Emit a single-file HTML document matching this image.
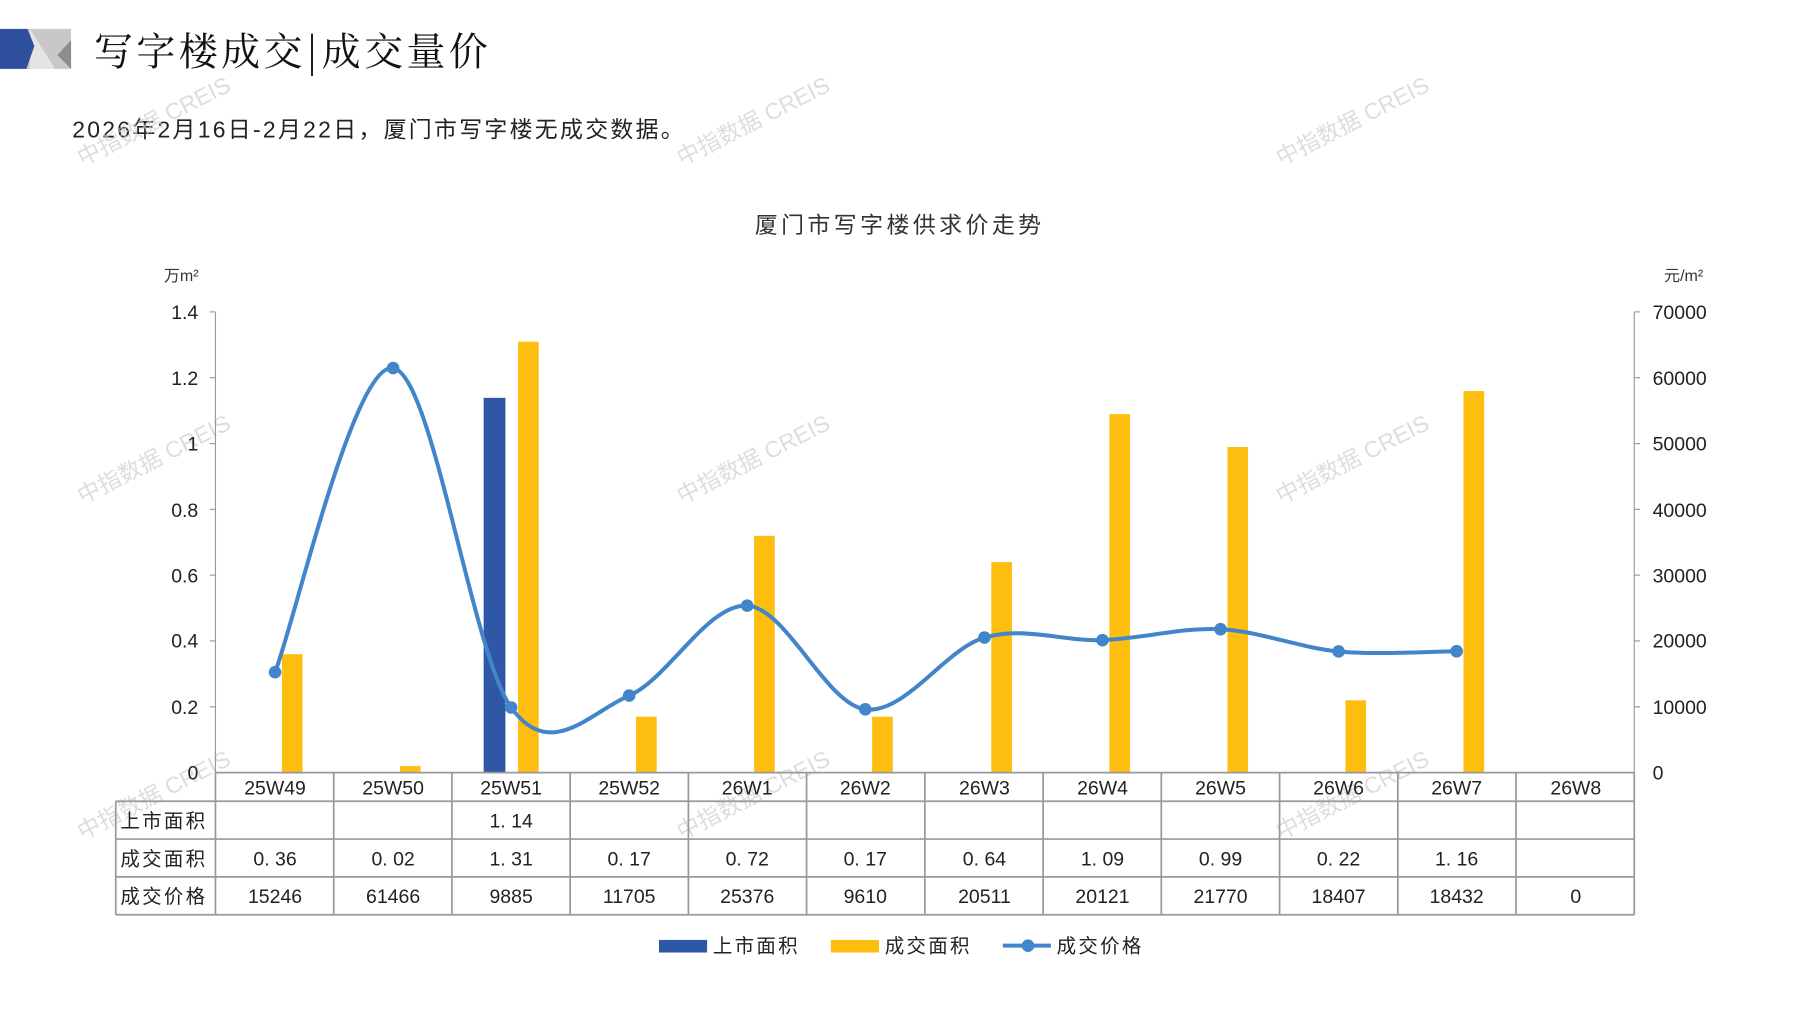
<!DOCTYPE html>
<html><head><meta charset="utf-8"><style>
html,body{margin:0;padding:0;background:#fff;}
svg{display:block;}
text{font-family:"Liberation Sans","Noto Sans CJK SC",sans-serif;}
</style></head><body>
<svg width="1797" height="1010" viewBox="0 0 1568 881" xmlns="http://www.w3.org/2000/svg">
<rect width="1568" height="881" fill="#fff"/>
<polygon points="20,25 62,25 62,60 20,60" fill="#c8c8c8"/>
<polygon points="26,25 48,60 26,60" fill="#e4e4e4"/>
<polygon points="62,35 62,60 50,48" fill="#8c8c8c"/>
<polygon points="0,25 24,25 30,40 23,60 0,60" fill="#2f4f9f"/>
<text x="82" y="57" font-size="34" fill="#111" letter-spacing="3" style="font-family:'Noto Serif CJK SC',serif">写字楼成交|成交量价</text>
<text x="63" y="120" font-size="20" fill="#222" letter-spacing="2">2026年2月16日-2月22日，厦门市写字楼无成交数据。</text>
<g fill="#cfcfcf" font-size="20" opacity="0.7">
<text transform="translate(72,145) rotate(-27)">中指数据 CREIS</text>
<text transform="translate(595,145) rotate(-27)">中指数据 CREIS</text>
<text transform="translate(1118,145) rotate(-27)">中指数据 CREIS</text>
<text transform="translate(72,440) rotate(-27)">中指数据 CREIS</text>
<text transform="translate(595,440) rotate(-27)">中指数据 CREIS</text>
<text transform="translate(1118,440) rotate(-27)">中指数据 CREIS</text>
<text transform="translate(72,733) rotate(-27)">中指数据 CREIS</text>
<text transform="translate(595,733) rotate(-27)">中指数据 CREIS</text>
<text transform="translate(1118,733) rotate(-27)">中指数据 CREIS</text>
</g>
<text x="785" y="203" font-size="20" fill="#333" text-anchor="middle" letter-spacing="3">厦门市写字楼供求价走势</text>
<text x="143" y="245" font-size="14" fill="#333">万m²</text>
<text x="1452" y="245" font-size="14" fill="#333">元/m²</text>
<g stroke="#999" stroke-width="1" fill="none">
<line x1="188" y1="272" x2="188" y2="674"/>
<line x1="1426" y1="272" x2="1426" y2="674"/>
<line x1="183" y1="272" x2="188" y2="272"/><line x1="183" y1="329.4" x2="188" y2="329.4"/><line x1="183" y1="386.9" x2="188" y2="386.9"/><line x1="183" y1="444.3" x2="188" y2="444.3"/><line x1="183" y1="501.7" x2="188" y2="501.7"/><line x1="183" y1="559.1" x2="188" y2="559.1"/><line x1="183" y1="616.6" x2="188" y2="616.6"/>
<line x1="1426" y1="272" x2="1431" y2="272"/><line x1="1426" y1="329.4" x2="1431" y2="329.4"/><line x1="1426" y1="386.9" x2="1431" y2="386.9"/><line x1="1426" y1="444.3" x2="1431" y2="444.3"/><line x1="1426" y1="501.7" x2="1431" y2="501.7"/><line x1="1426" y1="559.1" x2="1431" y2="559.1"/><line x1="1426" y1="616.6" x2="1431" y2="616.6"/>
</g>
<g font-size="17" fill="#222" text-anchor="end">
<text x="173" y="278">1.4</text><text x="173" y="336">1.2</text><text x="173" y="393">1</text><text x="173" y="451">0.8</text><text x="173" y="508">0.6</text><text x="173" y="565">0.4</text><text x="173" y="623">0.2</text><text x="173" y="680">0</text>
</g>
<g font-size="17" fill="#222" text-anchor="start">
<text x="1442" y="278">70000</text><text x="1442" y="336">60000</text><text x="1442" y="393">50000</text><text x="1442" y="451">40000</text><text x="1442" y="508">30000</text><text x="1442" y="565">20000</text><text x="1442" y="623">10000</text><text x="1442" y="680">0</text>
</g>
<rect x="422" y="347" width="19" height="327" fill="#2e58a6"/>
<g fill="#fdbe10">
<rect x="246" y="570.7" width="18" height="103.3"/>
<rect x="349" y="668.3" width="18" height="5.7"/>
<rect x="452" y="298" width="18" height="376"/>
<rect x="555" y="625.2" width="18" height="48.8"/>
<rect x="658" y="467.4" width="18" height="206.6"/>
<rect x="761" y="625.2" width="18" height="48.8"/>
<rect x="865" y="490.3" width="18" height="183.7"/>
<rect x="968" y="361.2" width="18" height="312.8"/>
<rect x="1071" y="389.9" width="18" height="284.1"/>
<rect x="1174" y="610.9" width="18" height="63.1"/>
<rect x="1277" y="341.1" width="18" height="332.9"/>
</g>
<path d="M240,586.4 C257.2,542.3 308.7,315.9 343,321 C377.3,326.1 411.7,569.6 446,617.2 C480.3,664.8 514.7,621.6 549,606.8 C583.3,592 617.7,526.3 652,528.3 C686.3,530.3 720.5,614.2 755,618.8 C789.5,623.5 824.5,566.3 859,556.2 C893.5,546.1 927.7,559.6 962,558.4 C996.3,557.2 1030.7,547.2 1065,548.9 C1099.3,550.6 1133.7,565.1 1168,568.3 C1202.3,571.5 1253.8,568.1 1271,568.1" fill="none" stroke="#4285c9" stroke-width="3.5"/>
<g fill="#4285c9">
<circle cx="240" cy="586.4" r="5.5"/><circle cx="343" cy="321" r="5.5"/><circle cx="446" cy="617.2" r="5.5"/><circle cx="549" cy="606.8" r="5.5"/><circle cx="652" cy="528.3" r="5.5"/><circle cx="755" cy="618.8" r="5.5"/><circle cx="859" cy="556.2" r="5.5"/><circle cx="962" cy="558.4" r="5.5"/><circle cx="1065" cy="548.9" r="5.5"/><circle cx="1168" cy="568.3" r="5.5"/><circle cx="1271" cy="568.1" r="5.5"/>
</g>
<g stroke="#999" stroke-width="1.5" fill="none">
<line x1="188" y1="674" x2="1426" y2="674"/>
<line x1="101" y1="699" x2="1426" y2="699"/>
<line x1="101" y1="732" x2="1426" y2="732"/>
<line x1="101" y1="765" x2="1426" y2="765"/>
<line x1="101" y1="798" x2="1426" y2="798"/>
<line x1="101" y1="699" x2="101" y2="798"/>
<line x1="188" y1="674" x2="188" y2="798"/>
<line x1="291.2" y1="674" x2="291.2" y2="798"/><line x1="394.3" y1="674" x2="394.3" y2="798"/><line x1="497.5" y1="674" x2="497.5" y2="798"/><line x1="600.7" y1="674" x2="600.7" y2="798"/><line x1="703.8" y1="674" x2="703.8" y2="798"/><line x1="807" y1="674" x2="807" y2="798"/><line x1="910.2" y1="674" x2="910.2" y2="798"/><line x1="1013.3" y1="674" x2="1013.3" y2="798"/><line x1="1116.5" y1="674" x2="1116.5" y2="798"/><line x1="1219.7" y1="674" x2="1219.7" y2="798"/><line x1="1322.8" y1="674" x2="1322.8" y2="798"/><line x1="1426" y1="674" x2="1426" y2="798"/>
</g>
<g font-size="17" fill="#222" text-anchor="middle">
<text x="240" y="693">25W49</text><text x="343" y="693">25W50</text><text x="446" y="693">25W51</text><text x="549" y="693">25W52</text><text x="652" y="693">26W1</text><text x="755" y="693">26W2</text><text x="859" y="693">26W3</text><text x="962" y="693">26W4</text><text x="1065" y="693">26W5</text><text x="1168" y="693">26W6</text><text x="1271" y="693">26W7</text><text x="1375" y="693">26W8</text>
<text x="446" y="722">1. 14</text>
<text x="240" y="755">0. 36</text><text x="343" y="755">0. 02</text><text x="446" y="755">1. 31</text><text x="549" y="755">0. 17</text><text x="652" y="755">0. 72</text><text x="755" y="755">0. 17</text><text x="859" y="755">0. 64</text><text x="962" y="755">1. 09</text><text x="1065" y="755">0. 99</text><text x="1168" y="755">0. 22</text><text x="1271" y="755">1. 16</text>
<text x="240" y="788">15246</text><text x="343" y="788">61466</text><text x="446" y="788">9885</text><text x="549" y="788">11705</text><text x="652" y="788">25376</text><text x="755" y="788">9610</text><text x="859" y="788">20511</text><text x="962" y="788">20121</text><text x="1065" y="788">21770</text><text x="1168" y="788">18407</text><text x="1271" y="788">18432</text><text x="1375" y="788">0</text>
</g>
<g font-size="17" fill="#222" letter-spacing="2">
<text x="105" y="722">上市面积</text><text x="105" y="755">成交面积</text><text x="105" y="788">成交价格</text>
</g>
<rect x="575" y="820" width="42" height="11" fill="#2e58a6"/>
<text x="622" y="831" font-size="17" fill="#222" letter-spacing="2">上市面积</text>
<rect x="725" y="820" width="42" height="11" fill="#fdbe10"/>
<text x="772" y="831" font-size="17" fill="#222" letter-spacing="2">成交面积</text>
<line x1="875" y1="825" x2="917" y2="825" stroke="#4285c9" stroke-width="3.5"/>
<circle cx="897" cy="825" r="5.5" fill="#4285c9"/>
<text x="922" y="831" font-size="17" fill="#222" letter-spacing="2">成交价格</text>
</svg>
</body></html>
